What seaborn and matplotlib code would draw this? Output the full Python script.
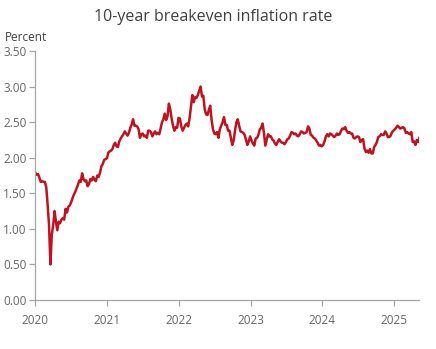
import numpy as np
import pandas as pd
import matplotlib
matplotlib.use("Agg")
import matplotlib.pyplot as plt
import matplotlib.dates as mdates
import seaborn as sns

# Weekly readings (Fridays) of the 10-year breakeven inflation rate, percent
v2020 = [1.79, 1.76, 1.77, 1.72, 1.66,
         1.67, 1.66, 1.66, 1.58,
         1.33, 1.05, 0.50, 0.92,
         1.05, 1.25, 1.10, 0.98,
         1.10, 1.08, 1.13, 1.15, 1.13,
         1.28, 1.23, 1.31, 1.33,
         1.37, 1.43, 1.48, 1.52, 1.57,
         1.62, 1.68, 1.66, 1.78,
         1.70, 1.67, 1.68, 1.60,
         1.63, 1.70, 1.68, 1.73, 1.69,
         1.67, 1.75, 1.73, 1.79,
         1.88, 1.91, 1.97, 1.98]
v2021 = [1.99, 2.07, 2.09, 2.10, 2.12,
         2.18, 2.21, 2.16, 2.15,
         2.23, 2.27, 2.30, 2.33,
         2.37, 2.34, 2.31, 2.35, 2.42,
         2.47, 2.54, 2.45, 2.45,
         2.44, 2.40, 2.28, 2.33,
         2.34, 2.30, 2.31, 2.28, 2.38,
         2.38, 2.36, 2.30, 2.34,
         2.37, 2.33, 2.35, 2.33,
         2.41, 2.50, 2.54, 2.62, 2.53,
         2.58, 2.76, 2.68, 2.55,
         2.45, 2.38, 2.43, 2.42, 2.56]
v2022 = [2.55, 2.44, 2.38, 2.42,
         2.46, 2.48, 2.44, 2.55,
         2.72, 2.88, 2.78, 2.85,
         2.84, 2.88, 2.94, 3.00, 2.86,
         2.87, 2.68, 2.61, 2.60,
         2.67, 2.73, 2.53, 2.40,
         2.34, 2.33, 2.36, 2.28, 2.40,
         2.45, 2.50, 2.57, 2.46,
         2.46, 2.38, 2.38, 2.28, 2.18,
         2.24, 2.38, 2.50, 2.54,
         2.45, 2.37, 2.36, 2.35,
         2.32, 2.25, 2.18, 2.23, 2.30]
v2023 = [2.24, 2.20, 2.17, 2.27,
         2.28, 2.32, 2.40, 2.42,
         2.48, 2.35, 2.17, 2.25, 2.33,
         2.30, 2.30, 2.26, 2.24,
         2.20, 2.18, 2.22, 2.26,
         2.23, 2.21, 2.21, 2.19, 2.22,
         2.26, 2.27, 2.31, 2.36,
         2.35, 2.33, 2.34, 2.31,
         2.30, 2.33, 2.37, 2.36, 2.34,
         2.35, 2.36, 2.44, 2.41,
         2.32, 2.31, 2.28, 2.27,
         2.24, 2.21, 2.17, 2.18, 2.16]
v2024 = [2.18, 2.23, 2.30, 2.33,
         2.30, 2.34, 2.33, 2.31,
         2.29, 2.31, 2.34, 2.32, 2.33,
         2.38, 2.41, 2.40, 2.43,
         2.38, 2.35, 2.36, 2.34, 2.34,
         2.28, 2.27, 2.29, 2.30,
         2.29, 2.22, 2.25, 2.26,
         2.13, 2.08, 2.10, 2.07, 2.12,
         2.06, 2.06, 2.15, 2.18,
         2.22, 2.29, 2.30, 2.33,
         2.32, 2.32, 2.37, 2.34, 2.29,
         2.29, 2.31, 2.36, 2.38]
v2025 = [2.40, 2.42, 2.45, 2.43, 2.41,
         2.42, 2.43, 2.41, 2.35,
         2.36, 2.34, 2.33, 2.36,
         2.22, 2.23, 2.18, 2.25,
         2.22, 2.29]

values = v2020 + v2021 + v2022 + v2023 + v2024 + v2025
dates = pd.date_range("2020-01-03", periods=len(values), freq="7D")
df = pd.DataFrame({"date": dates, "rate": values})

year_ticks = ["2020", "2021", "2022", "2023", "2024", "2025"]
y_ticks = [0.0, 0.5, 1.0, 1.5, 2.0, 2.5, 3.0, 3.5]

sns.set_theme(style="white")
plt.rcParams["font.family"] = ["Open Sans", "DejaVu Sans"]

fig = plt.figure(figsize=(4.36, 3.49), dpi=100)
ax = fig.add_axes([0.080, 0.1404, 0.881, 0.7135])

sns.lineplot(data=df, x="date", y="rate", ax=ax, color="#C0121F", linewidth=1.8)

ax.set_xlim(pd.Timestamp("2020-01-01"), pd.Timestamp("2025-05-06"))
ax.set_ylim(0, 3.5)
ax.set_xticks([pd.Timestamp(f"{y}-01-01") for y in year_ticks])
ax.set_xticklabels(year_ticks)
ax.set_yticks(y_ticks)
ax.set_yticklabels([f"{t:.2f}" for t in y_ticks])
ax.set_xlabel("")
ax.set_ylabel("")

for s in ["top", "right"]:
    ax.spines[s].set_visible(False)
for s in ["left", "bottom"]:
    ax.spines[s].set_color("#A6A6A6")
    ax.spines[s].set_linewidth(0.9)

ax.tick_params(axis="both", which="major", length=4, width=0.9, color="#A6A6A6",
               labelsize=8.5, labelcolor="#666666", direction="out",
               bottom=True, left=True)
ax.tick_params(axis="x", pad=6)
ax.tick_params(axis="y", pad=2)
ax.grid(False)

fig.text(0.49, 0.952, "10-year breakeven inflation rate", ha="center", va="center",
         fontsize=11.5, color="#404040")
fig.text(0.012, 0.893, "Percent", ha="left", va="center", fontsize=8.5, color="#404040")

fig.savefig("out.png", dpi=100, facecolor="white")
